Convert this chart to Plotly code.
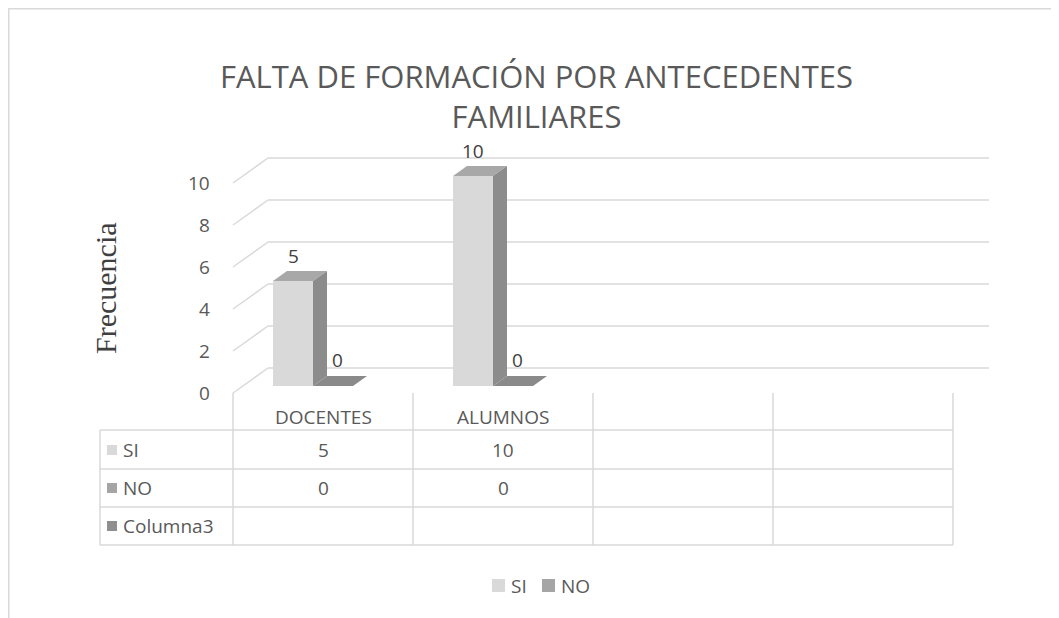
import plotly.graph_objects as go

# ---------------- data ----------------
categories = ["DOCENTES", "ALUMNOS", "", ""]
series_names = ["SI", "NO"]
si_values = [5, 10]
no_values = [0, 0]
table_rows = ["SI", "NO", "Columna3"]
y_ticks = [0, 2, 4, 6, 8, 10]
title_text = "FALTA DE FORMACIÓN POR ANTECEDENTES<br>FAMILIARES"
y_title = "Frecuencia"

# ---------------- layout geometry ----------------
# reference pixel coordinates are converted to figure coordinates
# (the page body adds an 8px offset)
OFF = 8
W, H = 1059, 618
L, R, T, B = 85, 59, 125, 58
X0_PX, PX_PER_CAT = 233 - OFF, 180.0     # category 0 left edge, width per category
Y0_PX, PX_PER_UNIT = 393 - OFF, 21.0     # value 0 (front), pixels per unit


def px2x(px):
    return (px - OFF - X0_PX) / PX_PER_CAT


def px2y(py):
    return (Y0_PX - (py - OFF)) / PX_PER_UNIT


x_range = [(L - X0_PX) / PX_PER_CAT, (W - R - X0_PX) / PX_PER_CAT]
y_range = [(Y0_PX - (H - B)) / PX_PER_UNIT, (Y0_PX - T) / PX_PER_UNIT]


def ppx(px):  # paper x from reference px
    return (px - OFF - L) / (W - L - R)


def ppy(py):  # paper y from reference px
    return (H - B - (py - OFF)) / (H - B - T)


# colours
SI_FRONT, SI_TOP, SI_SIDE = "#d9d9d9", "#a8a8a8", "#8c8c8c"
NO_FRONT, NO_TOP, NO_SIDE = "#a5a5a5", "#8a8a8a", "#7a7a7a"
COL3 = "#8f8f8f"
GRID = "#d9d9d9"
TXT = "#595959"
FONT = "Open Sans"
FS = 19

bar_w = 40 / PX_PER_CAT
bar_base = px2y(386)
dx = 14 / PX_PER_CAT
dy = 10 / PX_PER_UNIT
wall_dx = 35 / PX_PER_CAT
wall_dy = 25 / PX_PER_UNIT
grid_right = px2x(989)

fig = go.Figure()

# back wall gridlines + side-wall diagonals
for v in y_ticks:
    fig.add_shape(type="line", xref="x", yref="y", x0=0, y0=v, x1=wall_dx, y1=v + wall_dy,
                  line=dict(color=GRID, width=1.5), layer="below")
    fig.add_shape(type="line", xref="x", yref="y", x0=wall_dx, y0=v + wall_dy, x1=grid_right,
                  y1=v + wall_dy, line=dict(color=GRID, width=1.5), layer="below")

# bars
n = len(si_values)
si_left = [i + px2x(273) for i in range(n)]
no_left = [l + bar_w for l in si_left]


def faces(lefts, vals):
    tx, ty, sx, sy = [], [], [], []
    for xl, v in zip(lefts, vals):
        xr = xl + bar_w
        top = bar_base + v
        tx += [xl, xr, xr + dx, xl + dx, xl, None]
        ty += [top, top, top + dy, top + dy, top, None]
        if v > 0:
            sx += [xr, xr, xr + dx, xr + dx, xr, None]
            sy += [bar_base, top, top + dy, bar_base + dy, bar_base, None]
    return tx, ty, sx, sy


for name, lefts, vals, cf, ct, cs in [("SI", si_left, si_values, SI_FRONT, SI_TOP, SI_SIDE),
                                     ("NO", no_left, no_values, NO_FRONT, NO_TOP, NO_SIDE)]:
    fig.add_trace(go.Bar(x=[l + bar_w / 2 for l in lefts], y=vals, base=bar_base, width=bar_w,
                         marker=dict(color=cf, line=dict(width=0)), name=name,
                         showlegend=False, hoverinfo="skip"))
    tx, ty, sx, sy = faces(lefts, vals)
    fig.add_trace(go.Scatter(x=tx, y=ty, fill="toself", fillcolor=ct, mode="lines",
                             line=dict(width=0, color=ct), showlegend=False, hoverinfo="skip"))
    if sx:
        fig.add_trace(go.Scatter(x=sx, y=sy, fill="toself", fillcolor=cs, mode="lines",
                                 line=dict(width=0, color=cs), showlegend=False, hoverinfo="skip"))
    # data labels
    for xl, v in zip(lefts, vals):
        fig.add_annotation(x=xl + bar_w / 2 + (dx / 3 if v == 0 else 0), y=bar_base + v + dy,
                           text=str(v), showarrow=False, yanchor="bottom",
                           yshift=(0 if v > 0 else 1),
                           font=dict(family=FONT, size=FS, color="#404040"))

# y tick labels
for v in y_ticks:
    fig.add_annotation(x=px2x(212), y=v, text=str(v), showarrow=False, xanchor="right",
                       font=dict(family=FONT, size=FS, color=TXT))

# y axis title
fig.add_annotation(x=px2x(105), y=px2y(288), text=y_title, showarrow=False, textangle=-90,
                   font=dict(family="Liberation Serif", size=30, color="#404040"))

# title
fig.add_annotation(xref="paper", yref="paper", x=ppx(536), y=ppy(96), text=title_text,
                   showarrow=False, xanchor="center", yanchor="middle",
                   font=dict(family=FONT, size=31, color=TXT))

# ---------------- data table ----------------
row_lines_px = [430, 469, 507, 545]
n_cols = len(categories)
tbl_left = px2x(100)
for py in row_lines_px:
    fig.add_shape(type="line", xref="x", yref="y", x0=tbl_left, x1=n_cols, y0=px2y(py), y1=px2y(py),
                  line=dict(color=GRID, width=1.5))
fig.add_shape(type="line", xref="x", yref="y", x0=tbl_left, x1=tbl_left, y0=px2y(430), y1=px2y(545),
              line=dict(color=GRID, width=1.5))
for c in range(n_cols + 1):
    fig.add_shape(type="line", xref="x", yref="y", x0=c, x1=c, y0=0, y1=px2y(545),
                  line=dict(color=GRID, width=1.5))

for c, cat in enumerate(categories):
    if cat:
        fig.add_annotation(x=c + 0.5, y=px2y(417), text=cat, showarrow=False,
                           font=dict(family=FONT, size=FS, color=TXT))

row_centers_px = [450, 488, 526]
row_values = [si_values, no_values, [None] * n]
row_colors = [SI_FRONT, NO_FRONT, COL3]
for name, py, vals, col in zip(table_rows, row_centers_px, row_values, row_colors):
    yc = px2y(py)
    fig.add_shape(type="rect", xref="x", yref="y", x0=px2x(107), x1=px2x(117),
                  y0=yc - 5 / PX_PER_UNIT, y1=yc + 5 / PX_PER_UNIT,
                  line=dict(width=0), fillcolor=col)
    fig.add_annotation(x=px2x(121), y=yc, text=name, showarrow=False, xanchor="left",
                       font=dict(family=FONT, size=FS, color=TXT))
    for c, v in enumerate(vals):
        if v is not None:
            fig.add_annotation(x=c + 0.5, y=yc, text=str(v), showarrow=False,
                               font=dict(family=FONT, size=FS, color=TXT))

# ---------------- legend (drawn) ----------------
legend_swatch_px = [492, 542]
legend_colors = [SI_FRONT, NO_FRONT]
for name, sx0, col in zip(series_names, legend_swatch_px, legend_colors):
    fig.add_shape(type="rect", xref="paper", yref="paper", x0=ppx(sx0), x1=ppx(sx0 + 13),
                  y0=ppy(592), y1=ppy(579), line=dict(width=0), fillcolor=col)
    fig.add_annotation(xref="paper", yref="paper", x=ppx(sx0 + 17), y=ppy(586), text=name,
                       showarrow=False, xanchor="left", yanchor="middle",
                       font=dict(family=FONT, size=FS, color=TXT))

# chart border
fig.add_shape(type="rect", xref="paper", yref="paper", x0=ppx(8.75), x1=ppx(1080), y0=ppy(650),
              y1=ppy(8.75), line=dict(color="#d9d9d9", width=1.5), fillcolor="rgba(0,0,0,0)")

fig.update_layout(
    width=W, height=H,
    margin=dict(l=L, r=R, t=T, b=B, autoexpand=False),
    paper_bgcolor="white", plot_bgcolor="white",
    barmode="overlay",
    xaxis=dict(range=x_range, visible=False, fixedrange=True),
    yaxis=dict(range=y_range, visible=False, fixedrange=True),
    showlegend=False,
)

fig.write_html("out.html")
